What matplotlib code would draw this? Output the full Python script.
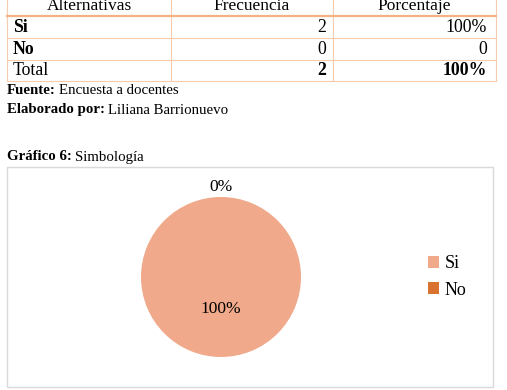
import matplotlib.pyplot as plt
from matplotlib.lines import Line2D
from matplotlib.patches import Rectangle

plt.rcParams['font.family'] = ['Liberation Serif', 'DejaVu Serif']

# datos de la tabla
encabezados = ['Alternativas', 'Frecuencia', 'Porcentaje']
alternativas = ['Si', 'No', 'Total']
frecuencia = [2, 0, 2]
porcentaje = ['100%', '0', '100%']

# datos del grafico
categorias = ['Si', 'No']
valores = [100, 0]
colores = ['#F0A98A', '#D9722F']

W, H = 507, 390
fig = plt.figure(figsize=(W / 100, H / 100), dpi=100)
renderer = fig.canvas.get_renderer()


def fx(px):
    return px / W


def fy(py):
    return 1 - py / H


def linea(x0, y0, x1, y1, color='#F8CBAD', lw=0.8):
    fig.add_artist(Line2D([fx(x0), fx(x1)], [fy(y0), fy(y1)], color=color, lw=lw,
                          transform=fig.transFigure))


def rotulo(x, y, negrita, normal, size=10.7):
    t = fig.text(fx(x), fy(y), negrita, ha='left', va='center', fontsize=size, fontweight='bold')
    bb = t.get_window_extent(renderer)
    fig.text(bb.x1 / W + fx(3.5), fy(y), normal, ha='left', va='center', fontsize=size)


# tabla
cols = [7, 171, 333, 496]
filas = [-6, 16, 38, 60, 81]
for x in cols:
    linea(x, filas[0], x, filas[-1])
for y in filas[2:]:
    linea(cols[0], y, cols[-1], y)
linea(cols[0], filas[1], cols[-1], filas[1], color='#F4B183', lw=1.6)

for i, h in enumerate(encabezados):
    fig.text(fx((cols[i] + cols[i + 1]) / 2), fy(6), h, ha='center', va='center', fontsize=12.5)

for j, alt in enumerate(alternativas):
    yc = (filas[j + 1] + filas[j + 2]) / 2
    negrita_alt = 'bold' if alt != 'Total' else 'normal'
    negrita_val = 'bold' if alt == 'Total' else 'normal'
    fig.text(fx(cols[0] + 6), fy(yc), alt, ha='left', va='center', fontsize=12.8,
             fontweight=negrita_alt)
    fig.text(fx(cols[2] - 7), fy(yc), str(frecuencia[j]), ha='right', va='center',
             fontsize=12.8, fontweight=negrita_val)
    fig.text(fx(cols[3] - 9), fy(yc), porcentaje[j], ha='right', va='center',
             fontsize=12.8, fontweight=negrita_val)

# fuente y titulo
rotulo(7, 91, 'Fuente:', 'Encuesta a docentes')
rotulo(7, 110, 'Elaborado por:', 'Liliana Barrionuevo')
rotulo(7, 157, 'Gráfico 6:', 'Simbología')

# recuadro del grafico
fig.add_artist(Rectangle((fx(7), fy(387)), fx(486), 220 / H, fill=False,
                         edgecolor='#D9D9D9', lw=1, transform=fig.transFigure))

# torta
r = 80
cx, cy = 221, 277
ax = fig.add_axes([fx(cx - r), fy(cy + r), fx(2 * r), 2 * r / H])
wedges, textos, autotextos = ax.pie(valores, colors=colores, startangle=90, counterclock=False,
                                    autopct='%1.0f%%', pctdistance=0.4,
                                    textprops={'fontsize': 12.5})
autotextos[1].set_position((0, 1.13))
ax.set_aspect('equal')
ax.set_xlim(-1, 1)
ax.set_ylim(-1, 1)

fig.legend(wedges, categorias, loc='center left', bbox_to_anchor=(fx(412), fy(277)),
           frameon=False, fontsize=13, handlelength=0.6, handleheight=0.6,
           handletextpad=0.3, labelspacing=0.5)

fig.savefig('out.png', dpi=100)
